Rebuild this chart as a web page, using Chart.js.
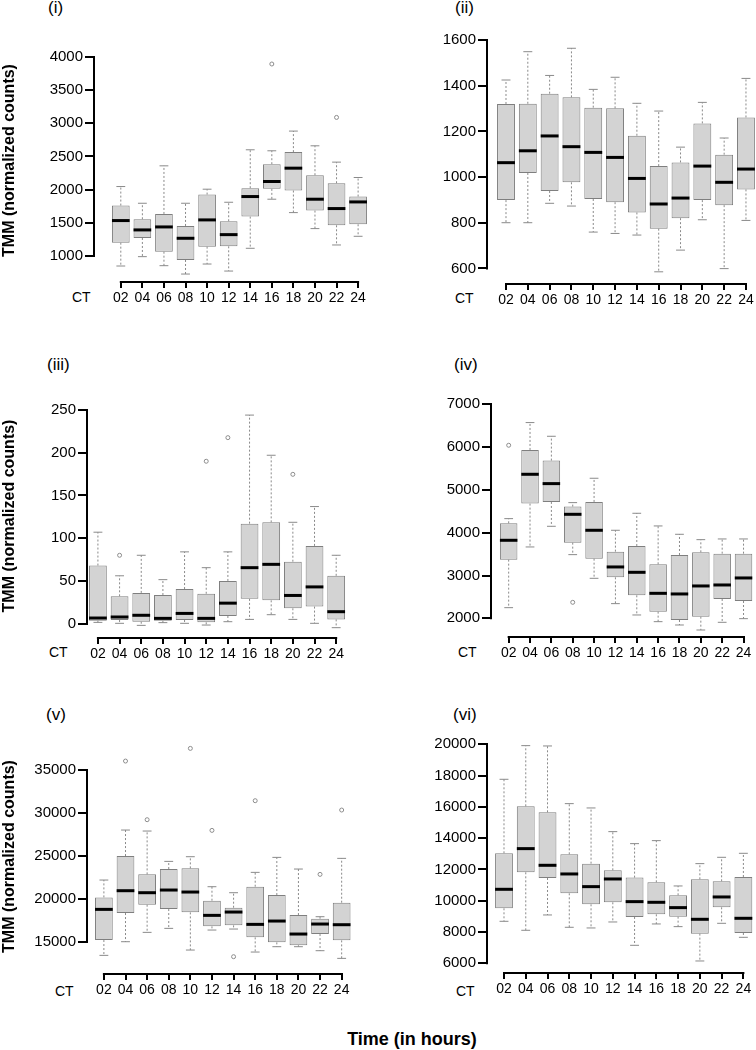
<!DOCTYPE html>
<html>
<head>
<meta charset="utf-8">
<script src="https://cdn.jsdelivr.net/npm/chart.js@4.4.0/dist/chart.umd.min.js"></script>
<style>
  body { margin: 0; background: #fff; font-family: "Liberation Sans", Arial, sans-serif; }
  #wrap { position: relative; width: 756px; height: 1050px; overflow: hidden; }
  canvas { position: absolute; }
  .tag { position: absolute; font-size: 17px; line-height: 17px; color: #000; }
  .ct { position: absolute; font-size: 14px; line-height: 14px; color: #000; }
  #xtitle { position: absolute; left: 312px; width: 200px; top: 1030px; text-align: center;
            font-size: 18px; line-height: 18px; font-weight: bold; }
</style>
</head>
<body>
<div id="wrap">
  <div class="tag" style="left:48px;top:-1px">(i)</div>
  <div class="tag" style="left:455px;top:-1px">(ii)</div>
  <div class="tag" style="left:47px;top:356px">(iii)</div>
  <div class="tag" style="left:454px;top:356px">(iv)</div>
  <div class="tag" style="left:46px;top:706px">(v)</div>
  <div class="tag" style="left:453px;top:706px">(vi)</div>
  <div class="ct" style="left:72px;top:290px">CT</div>
  <div class="ct" style="left:455px;top:291px">CT</div>
  <div class="ct" style="left:49px;top:645px">CT</div>
  <div class="ct" style="left:458px;top:645px">CT</div>
  <div class="ct" style="left:55px;top:984px">CT</div>
  <div class="ct" style="left:456px;top:984px">CT</div>
  <div id="xtitle">Time (in hours)</div>
</div>
<script>
const hours = ['02', '04', '06', '08', '10', '12', '14', '16', '18', '20', '22', '24'];

// (i)
const lowI  = [849, 990, 854, 728, 879, 773, 1116, 1856, 1654, 1413, 1166, 1297];
const q1I   = [1201, 1272, 1065, 940, 1141, 1146, 1594, 2012, 1987, 1685, 1463, 1478];
const medI  = [1534, 1393, 1438, 1267, 1544, 1322, 1896, 2123, 2324, 1856, 1715, 1815];
const q3I   = [1760, 1554, 1634, 1453, 1926, 1524, 2022, 2384, 2566, 2218, 2097, 1896];
const highI = [2047, 1795, 2359, 1795, 2007, 1810, 2601, 2586, 2883, 2661, 2415, 2183];
const outI  = [['16', 3894], ['22', 3089]];
const ticksI = [1000, 1500, 2000, 2500, 3000, 3500, 4000];

// (ii)
const lowII  = [800, 800, 885, 873, 759, 753, 746, 585, 680, 813, 599, 810];
const q1II   = [899, 1018, 939, 977, 904, 890, 845, 774, 820, 899, 877, 946];
const medII  = [1063, 1115, 1180, 1133, 1108, 1086, 994, 882, 908, 1048, 977, 1035];
const q3II   = [1320, 1321, 1365, 1349, 1304, 1301, 1181, 1048, 1064, 1235, 1098, 1261];
const highII = [1425, 1549, 1445, 1564, 1384, 1437, 1323, 1289, 1131, 1327, 1171, 1432];
const outII  = [];
const ticksII = [600, 800, 1000, 1200, 1400, 1600];

// (iii)
const lowIII  = [1.5, 0.4, -2, 1.2, 0.4, -1.6, 2.3, 5, 10.5, 5, 0.4, -4.7];
const q1III   = [3.5, 4.3, 2.3, 3.5, 4.3, 1.6, 9, 29, 27.3, 18, 20, 5];
const medIII  = [6.6, 7.8, 9.8, 6.2, 12, 6.2, 24, 65.5, 69.4, 33, 43, 14];
const q3III   = [68, 32, 36, 33.5, 40.5, 35, 50, 117, 118.5, 72.5, 91, 56];
const highIII = [107, 56, 80, 51.5, 84, 65.5, 84, 244, 197, 118.6, 137, 80];
const outIII  = [['04', 80], ['12', 190], ['14', 217.6], ['20', 174.7]];
const ticksIII = [0, 50, 100, 150, 200, 250];

// (iv)
const lowIV  = [2249, 3667, 4150, 3488, 2935, 2343, 2078, 1922, 1844, 1727, 1907, 1992];
const q1IV   = [3371, 4680, 4719, 3768, 3394, 2958, 2538, 2156, 1961, 2039, 2452, 2405];
const medIV  = [3823, 5365, 5147, 4430, 4057, 3200, 3075, 2584, 2569, 2756, 2779, 2943];
const q3IV   = [4220, 5934, 5685, 4610, 4719, 3558, 3690, 3262, 3480, 3542, 3511, 3511];
const highIV = [4329, 6573, 6253, 4703, 5272, 4057, 4454, 4158, 3963, 3838, 3854, 3854];
const outIV  = [['02', 6043], ['08', 2374]];
const ticksIV = [2000, 3000, 4000, 5000, 6000, 7000];

// (v)
const lowV  = [13408, 15000, 16087, 16553, 14029, 16359, 16476, 13796, 14418, 14418, 13952, 13059];
const q1V   = [15194, 18339, 19310, 18805, 18417, 16786, 16903, 15505, 14922, 14573, 15893, 15155];
const medV  = [18767, 20941, 20708, 21019, 20786, 18068, 18456, 17019, 17407, 15893, 17058, 16980];
const q3V   = [20164, 24979, 22844, 23465, 23543, 19776, 18961, 21407, 20436, 18106, 17679, 19543];
const highV = [22184, 28008, 27892, 24358, 24902, 21407, 20708, 23077, 24824, 23465, 17912, 24708];
const outV  = [['04', 36045], ['06', 29212], ['10', 37521], ['12', 27969], ['14', 13253],
               ['16', 31425], ['22', 22844], ['24', 30338]];
const ticksV = [15000, 20000, 25000, 30000, 35000];

// (vi)
const lowVI  = [8685, 8110, 9090, 8302, 8259, 8642, 7151, 8515, 8344, 6149, 8557, 7662];
const q1VI   = [9516, 11818, 11455, 10475, 9772, 9900, 8962, 9133, 8983, 7897, 9580, 7939];
const medVI  = [10731, 13331, 12265, 11711, 10901, 11391, 9942, 9900, 9559, 8813, 10241, 8877];
const q3VI   = [13032, 16037, 15653, 12968, 12371, 11945, 11477, 11178, 10347, 11370, 11242, 11519];
const highVI = [17763, 19915, 19894, 16207, 15930, 14417, 13650, 13842, 10944, 12371, 12776, 13032];
const outVI  = [];
const ticksVI = [6000, 8000, 10000, 12000, 14000, 16000, 18000, 20000];

const yTitle = 'TMM (normalized counts)';

// canvas placement + plot area (canvas coords) + axis ranges
const panels = [
  { left: 0,   top: 0,   w: 378, h: 311, area: [95, 40, 375, 281],  xr: [-0.196, 12.69], yr: [623, 4256],
    low: lowI, q1: q1I, med: medI, q3: q3I, high: highI, out: outI, ticks: ticksI, title: true },
  { left: 378, top: 0,   w: 378, h: 313, area: [110, 30, 378, 283], xr: [0.175, 12.46], yr: [536, 1644],
    low: lowII, q1: q1II, med: medII, q3: q3II, high: highII, out: outII, ticks: ticksII, title: false },
  { left: 0,   top: 320, w: 378, h: 347, area: [88, 75, 375, 317],  xr: [0.542, 13.70], yr: [-15.6, 267.5],
    low: lowIII, q1: q1III, med: medIII, q3: q3III, high: highIII, out: outIII, ticks: ticksIII, title: true },
  { left: 378, top: 320, w: 378, h: 346, area: [114, 70, 378, 316], xr: [0.219, 12.35], yr: [1587, 7334],
    low: lowIV, q1: q1IV, med: medIV, q3: q3IV, high: highIV, out: outIV, ticks: ticksIV, title: false },
  { left: 0,   top: 670, w: 378, h: 333, area: [88, 70, 375, 303],  xr: [0.265, 13.45], yr: [11354, 38498],
    low: lowV, q1: q1V, med: medV, q3: q3V, high: highV, out: outV, ticks: ticksV, title: true },
  { left: 378, top: 670, w: 378, h: 332, area: [110, 60, 378, 302], xr: [0.265, 12.58], yr: [5444, 20914],
    low: lowVI, q1: q1VI, med: medVI, q3: q3VI, high: highVI, out: outVI, ticks: ticksVI, title: false }
];

function line(ctx, x1, y1, x2, y2) {
  ctx.beginPath();
  ctx.moveTo(x1, y1);
  ctx.lineTo(x2, y2);
  ctx.stroke();
}

function makePanel(p) {
  const cv = document.createElement('canvas');
  cv.width = p.w;
  cv.height = p.h;
  cv.style.left = p.left + 'px';
  cv.style.top = p.top + 'px';
  document.getElementById('wrap').appendChild(cv);

  const pos = hours.map((h, i) => i + 1);

  // whiskers, caps and medians on top of the floating bars
  const boxPlugin = {
    id: 'boxplot',
    afterDatasetsDraw(chart) {
      const { ctx, scales: { y } } = chart;
      const bars = chart.getDatasetMeta(0).data;
      ctx.save();
      bars.forEach((bar, i) => {
        const cx = bar.x, half = bar.width / 2;
        const pLow = y.getPixelForValue(p.low[i]);
        const pHigh = y.getPixelForValue(p.high[i]);
        const pQ1 = y.getPixelForValue(p.q1[i]);
        const pQ3 = y.getPixelForValue(p.q3[i]);
        const pMed = y.getPixelForValue(p.med[i]);
        ctx.strokeStyle = '#8a8a8a';
        ctx.lineWidth = 1;
        ctx.setLineDash([2, 2]);
        line(ctx, cx, pQ3, cx, pHigh);
        line(ctx, cx, pQ1, cx, pLow);
        ctx.setLineDash([]);
        line(ctx, cx - half / 2, pHigh, cx + half / 2, pHigh);
        line(ctx, cx - half / 2, pLow, cx + half / 2, pLow);
        ctx.strokeStyle = '#000';
        ctx.lineWidth = 3;
        line(ctx, cx - half, pMed, cx + half, pMed);
      });
      ctx.restore();
    },
    // axis lines only span first..last tick, like base R
    afterDraw(chart) {
      const { ctx, scales: { x, y }, chartArea } = chart;
      const ax = Math.round(chartArea.left) - 1;
      const ay = Math.round(chartArea.bottom) + 1;
      ctx.save();
      ctx.setLineDash([]);
      ctx.globalAlpha = 1;
      ctx.strokeStyle = '#000';
      ctx.lineWidth = 2;
      line(ctx, ax, y.getPixelForValue(p.ticks[0]) + 1, ax, y.getPixelForValue(p.ticks[p.ticks.length - 1]) - 1);
      line(ctx, x.getPixelForValue(pos[0]) - 1, ay, x.getPixelForValue(pos[pos.length - 1]) + 1, ay);
      ctx.restore();
    }
  };

  new Chart(cv, {
    type: 'bar',
    data: {
      datasets: [
        {
          type: 'bar',
          data: pos.map((v, i) => ({ x: v, y: [p.q1[i], p.q3[i]] })),
          backgroundColor: '#d3d3d3',
          borderColor: '#7f7f7f',
          borderWidth: 1,
          borderSkipped: false,
          barPercentage: 0.82,
          categoryPercentage: 1,
          clip: false
        },
        {
          type: 'scatter',
          data: p.out.map(o => ({ x: hours.indexOf(o[0]) + 1, y: o[1] })),
          pointStyle: 'circle',
          pointRadius: 2,
          borderColor: '#8c8c8c',
          backgroundColor: 'rgba(0,0,0,0)',
          borderWidth: 1,
          clip: false
        }
      ]
    },
    options: {
      responsive: false,
      animation: false,
      events: [],
      layout: { padding: { left: 0, top: p.area[1], right: p.w - p.area[2], bottom: 0 } },
      plugins: { legend: { display: false }, tooltip: { enabled: false } },
      scales: {
        x: {
          type: 'linear',
          bounds: 'data',
          offset: false,
          min: p.xr[0],
          max: p.xr[1],
          afterBuildTicks: s => { s.ticks = pos.map(v => ({ value: v })); },
          afterFit: s => { s.height = p.h - p.area[3]; },
          ticks: {
            autoSkip: false, maxRotation: 0, minRotation: 0, padding: 2,
            color: '#000', font: { size: 14, family: '"Liberation Sans", Arial, sans-serif' },
            callback: (v, i) => hours[i]
          },
          grid: { display: true, offset: false, drawOnChartArea: false, drawTicks: true, tickLength: 7, color: '#000', lineWidth: 2 },
          border: { display: false }
        },
        y: {
          type: 'linear',
          bounds: 'data',
          min: p.yr[0],
          max: p.yr[1],
          afterBuildTicks: s => { s.ticks = p.ticks.map(v => ({ value: v })); },
          afterFit: s => { s.width = p.area[0]; },
          ticks: {
            padding: 2, color: '#000',
            font: { size: 15, family: '"Liberation Sans", Arial, sans-serif' },
            callback: v => String(v)
          },
          grid: { display: true, drawOnChartArea: false, drawTicks: true, tickLength: 10, color: '#000', lineWidth: 2 },
          border: { display: false },
          title: {
            display: p.title, text: yTitle, color: '#000', padding: 0,
            font: { size: 16, weight: 'bold', family: '"Liberation Sans", Arial, sans-serif' }
          }
        }
      }
    },
    plugins: [boxPlugin]
  });
}

panels.forEach(makePanel);
</script>
</body>
</html>
